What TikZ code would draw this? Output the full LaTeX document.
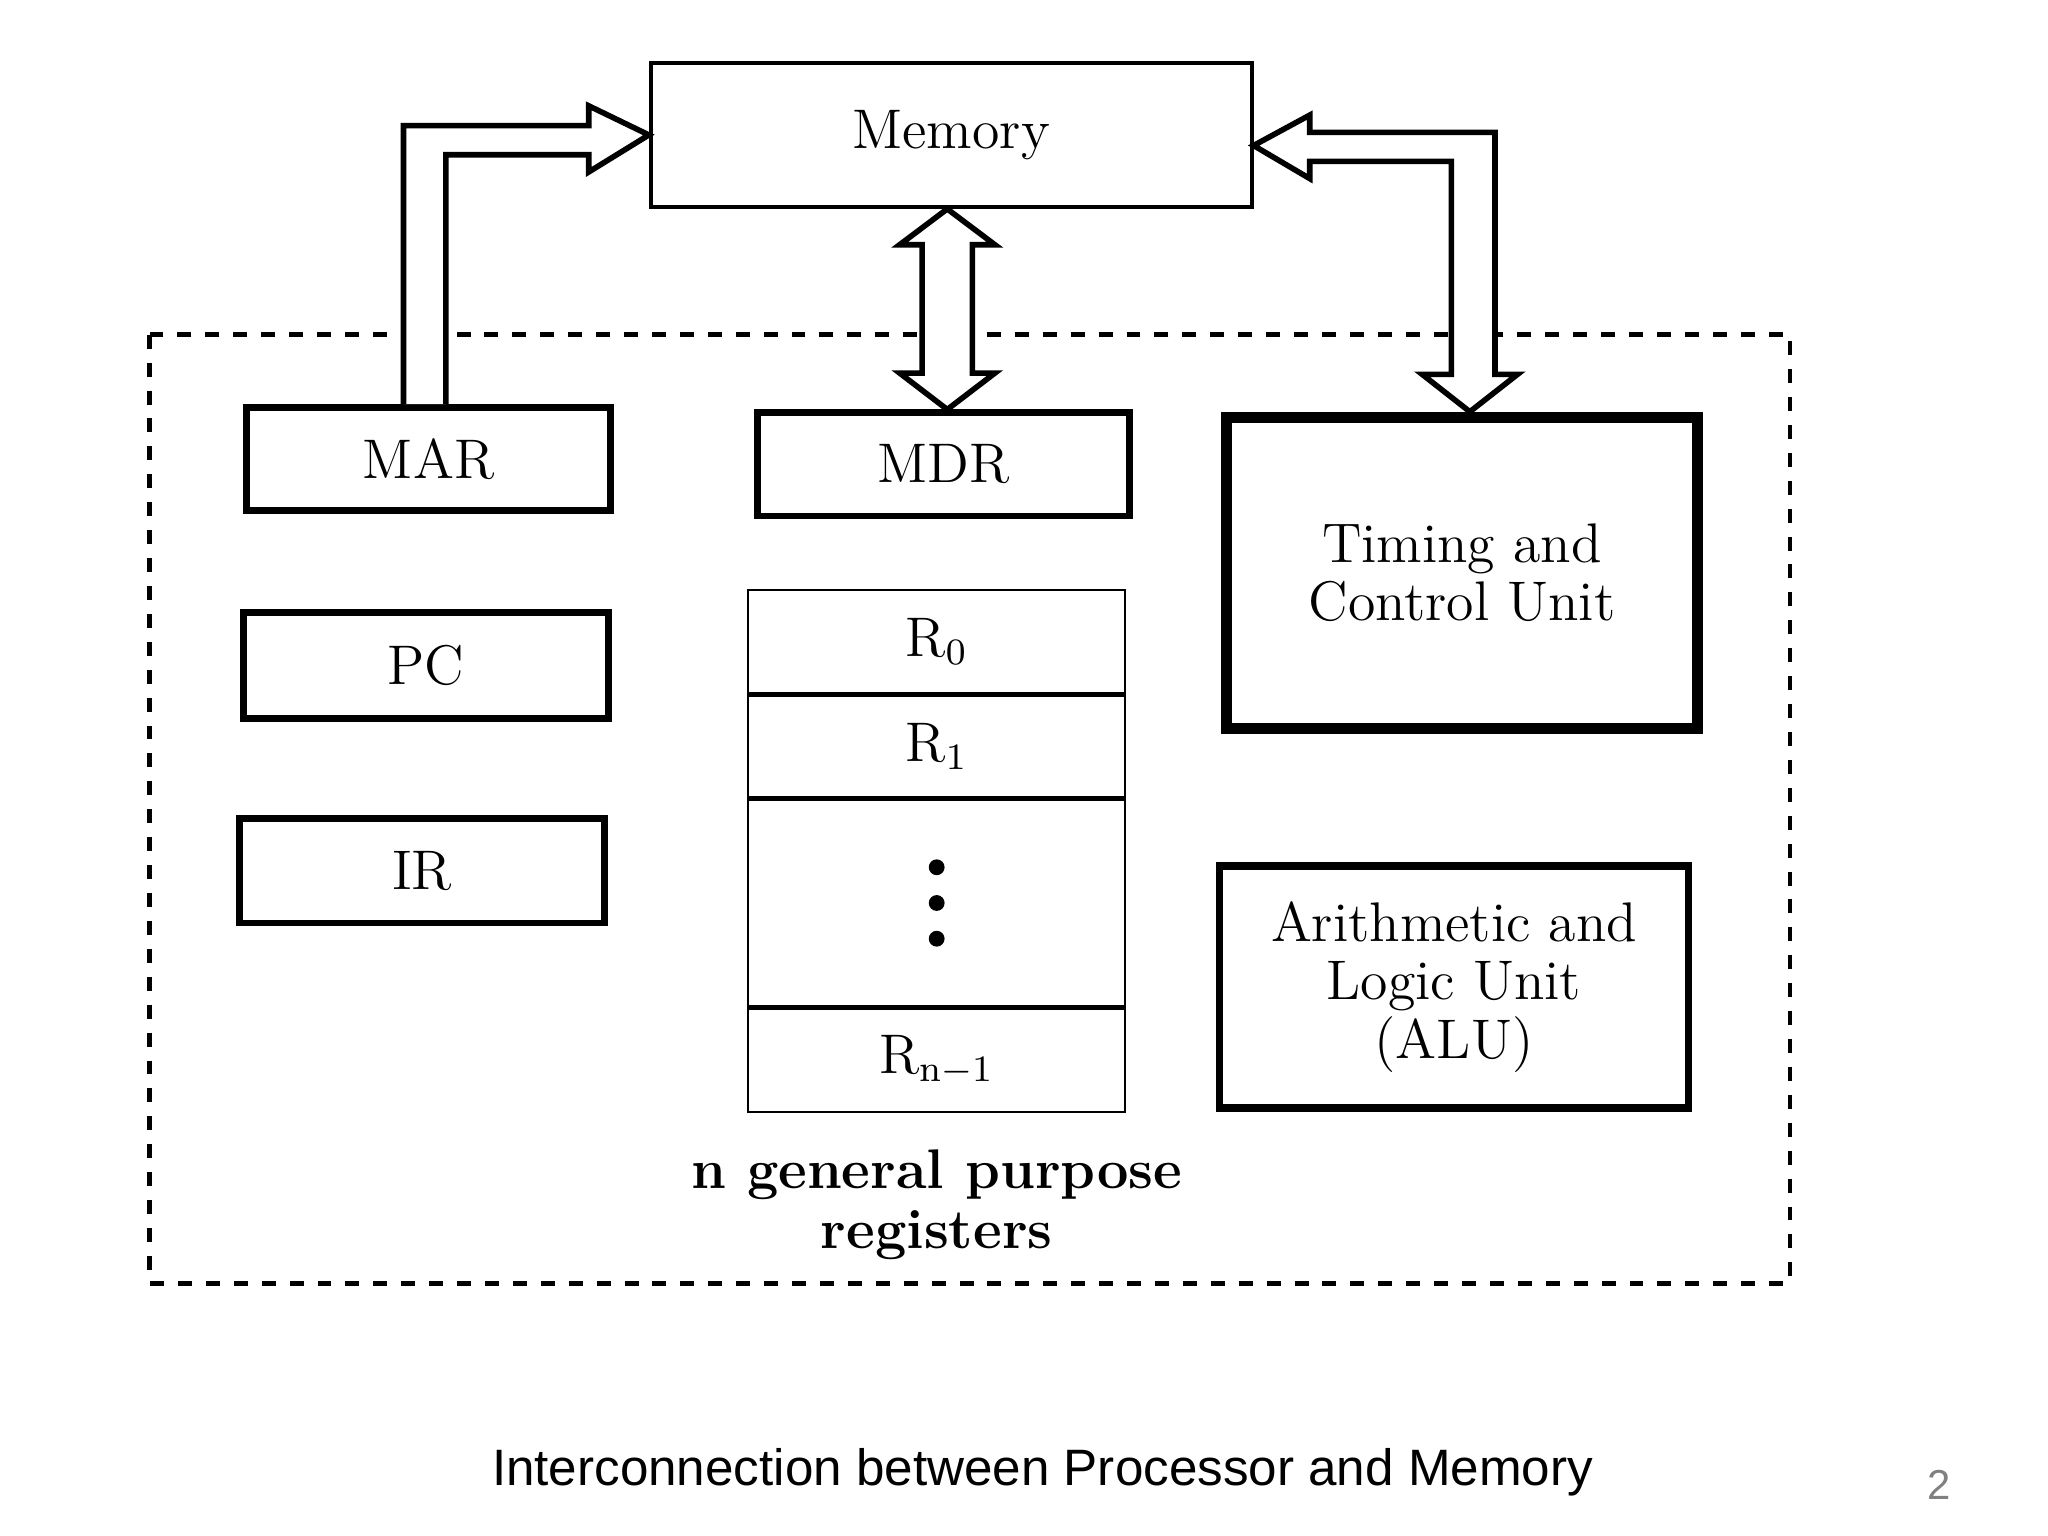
\documentclass[tikz,border=0pt]{standalone}
\usepackage{fontspec}
\newfontfamily\capfont{Liberation Sans}
\usetikzlibrary{positioning}

\begin{document}
\begin{tikzpicture}[x=0.01cm, y=-0.01cm,
    reg/.style={draw, line width=1.4pt, rectangle, font=\large},
    cell/.style={draw, line width=0.5pt, rectangle, minimum width=2.85cm, font=\large},
    unit/.style={draw, rectangle, align=center, font=\fontsize{12}{12.5}\selectfont},
    bus/.style={draw, line width=1.2pt, fill=white, line join=miter}]
    \useasboundingbox (0,0) rectangle (1548,1161);

    % outline of processor
    \draw[dashed, line width=1pt] (113,253) rectangle (1353,970);

    % nodes
    \node[unit, line width=0.8pt, minimum width=4.54cm, minimum height=1.09cm] (mem) at (719,102) {Memory};
    \node[reg, minimum width=2.75cm, minimum height=0.78cm] (mar) at (324,347) {MAR};
    \node[reg, minimum width=2.81cm, minimum height=0.78cm] (mdr) at (713,351) {MDR};
    \node[reg, minimum width=2.76cm, minimum height=0.80cm] (pc) at (322,503) {PC};
    \node[reg, minimum width=2.76cm, minimum height=0.79cm] (ir) at (319,658) {IR};
    \node[unit, line width=2.4pt, minimum width=3.56cm, minimum height=2.35cm] (tcu) at (1105,433) {Timing and\\Control Unit};
    \node[unit, line width=1.6pt, minimum width=3.54cm, minimum height=1.83cm] (alu) at (1099,746) {Arithmetic and\\Logic Unit\\(ALU)};

    % register file
    \node[cell, minimum height=0.78cm, anchor=north] (r0) at (708,445) {R$_0$};
    \node[cell, minimum height=0.77cm, below=0pt of r0] (r1) {R$_1$};
    \node[cell, minimum height=1.56cm, below=0pt of r1] (rdots) {};
    \foreach \dy in {-27,0,27}
        \fill ([yshift=\dy*0.01cm]rdots.center) circle (1.7pt);
    \node[cell, minimum height=0.78cm, below=0pt of rdots] (rn) {R$_{\mathrm{n-1}}$};
    \node[align=center, font=\bfseries\fontsize{12}{13}\selectfont, below=0.15cm of rn] (gpr) {n general purpose\\registers};

    % buses
    \draw[bus] (mar.north -| 305,0) -- (305,95) -- (445,95) -- (445,80) -- (mem.west) -- (445,130)
        -- (445,117) -- (337,117) -- (mar.north -| 337,0);
    \draw[bus] (mem.south -| 716,0) -- (752,185) -- (735,185) -- (735,282) -- (752,282) -- (mdr.north -| 716,0)
        -- (680,282) -- (697,282) -- (697,185) -- (680,185) -- cycle;
    \draw[bus] (mem.east |- 0,110) -- (990,87) -- (990,100) -- (1130,100) -- (1130,283) -- (1147,283)
        -- (tcu.north -| 1111,0) -- (1075,283) -- (1097,283) -- (1097,122) -- (990,122) -- (990,135) -- cycle;

    % caption
    \node[font=\capfont\fontsize{11}{13}\selectfont] (cap) at (788,1113) {Interconnection between Processor and Memory};
    \node[font=\capfont\small, text=gray] (page) at (1466,1122) {2};
\end{tikzpicture}
\end{document}
